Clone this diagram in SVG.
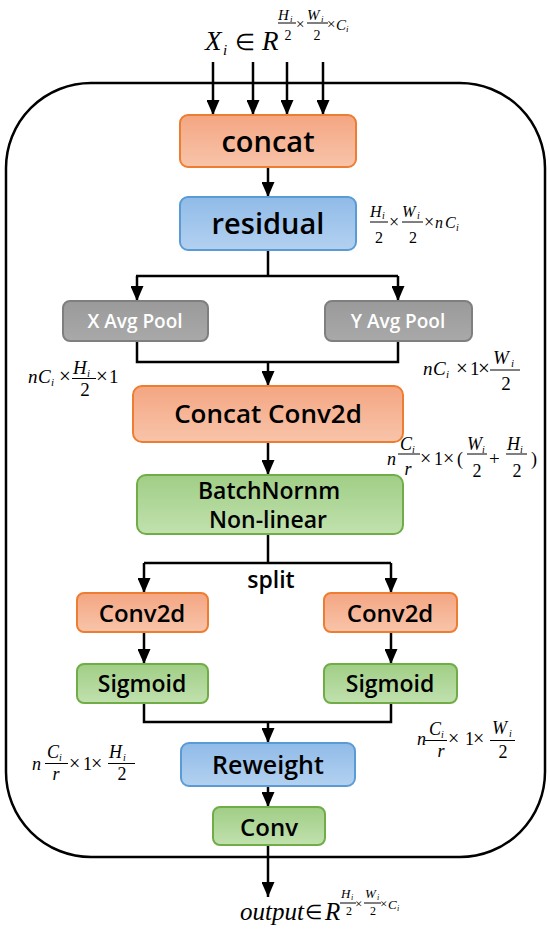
<svg xmlns="http://www.w3.org/2000/svg" width="550" height="930" viewBox="0 0 550 930">
<style>
.frame{fill:none;stroke:#000;stroke-width:2.5}
.c{fill:none;stroke:#000;stroke-width:2.5}
.ca{fill:none;stroke:#000;stroke-width:2.5;marker-end:url(#ah)}
.or{fill:url(#gO);stroke:#ed7d31;stroke-width:2}
.bl{fill:url(#gB);stroke:#5b9bd5;stroke-width:2}
.gr{fill:url(#gG);stroke:#70ad47;stroke-width:2}
.gy{fill:url(#gY);stroke:#7f7f7f;stroke-width:2}
.t{font-family:"Open Sans","Noto Sans",sans-serif;font-weight:600;fill:#000;text-anchor:middle}
.tw{font-family:"Open Sans","Noto Sans",sans-serif;font-weight:600;fill:#fff;text-anchor:middle}
.m{font-family:"Liberation Serif",serif;font-style:italic;fill:#000}
.u{font-family:"Liberation Serif",serif;font-style:normal;fill:#000}
.bar{stroke:#000;stroke-width:1}
</style>
<defs>
<linearGradient id="gO" x1="0" y1="0" x2="0" y2="1"><stop offset="0" stop-color="#f4a682"/><stop offset="1" stop-color="#f8c4aa"/></linearGradient>
<linearGradient id="gB" x1="0" y1="0" x2="0" y2="1"><stop offset="0" stop-color="#90bbe8"/><stop offset="1" stop-color="#b3d1f0"/></linearGradient>
<linearGradient id="gG" x1="0" y1="0" x2="0" y2="1"><stop offset="0" stop-color="#a0ce86"/><stop offset="1" stop-color="#c1e1ae"/></linearGradient>
<linearGradient id="gY" x1="0" y1="0" x2="0" y2="1"><stop offset="0" stop-color="#9a9a9a"/><stop offset="1" stop-color="#a9a9a9"/></linearGradient>
<marker id="ah" viewBox="0 0 15 13" refX="15" refY="6.5" markerWidth="15" markerHeight="13" markerUnits="userSpaceOnUse" orient="auto"><path d="M0,0 L15,6.5 L0,13 z" fill="#000"/></marker>
</defs>

<rect class="frame" x="6" y="83" width="539" height="774" rx="85" ry="85"/>

<g id="connectors">
<path class="ca" d="M213,62 V115"/>
<path class="ca" d="M253,62 V115"/>
<path class="ca" d="M287,62 V115"/>
<path class="ca" d="M323,62 V115"/>
<path class="ca" d="M268,167 V197"/>
<path class="c" d="M268,250 V276"/>
<path class="c" d="M136,276 H398"/>
<path class="ca" d="M137,276 V301"/>
<path class="ca" d="M398,276 V301"/>
<path class="c" d="M137,341 V362 H398 V341"/>
<path class="ca" d="M268,362 V386"/>
<path class="ca" d="M268,442 V475"/>
<path class="c" d="M268,534 V563"/>
<path class="c" d="M144,563 H391"/>
<path class="ca" d="M144,563 V593"/>
<path class="ca" d="M391,563 V593"/>
<path class="ca" d="M144,632 V664"/>
<path class="ca" d="M391,632 V664"/>
<path class="c" d="M144,703 V722 H391 V703"/>
<path class="ca" d="M268,722 V743"/>
<path class="ca" d="M268,786 V807"/>
<path class="ca" d="M268,845 V897"/>
<text class="t" x="271" y="588" font-size="23">split</text>
</g>

<g id="input">
<text class="m" x="205" y="50" font-size="27">X</text>
<text class="m" x="223" y="55" font-size="15">i</text>
<text class="u" x="235" y="50" font-size="23">∈</text>
<text class="m" x="262" y="50" font-size="27">R</text>
<text class="m" x="278" y="20" font-size="15">H</text>
<text class="m" x="290" y="22" font-size="9">i</text>
<line class="bar" x1="278" y1="23" x2="296" y2="23"/>
<text class="u" x="288" y="40" font-size="14" text-anchor="middle">2</text>
<text class="u" x="296" y="29" font-size="15">×</text>
<text class="m" x="307" y="20" font-size="15">W</text>
<text class="m" x="321" y="22" font-size="9">i</text>
<line class="bar" x1="307" y1="23" x2="328" y2="23"/>
<text class="u" x="317" y="40" font-size="14" text-anchor="middle">2</text>
<text class="u" x="327" y="29" font-size="15">×</text>
<text class="m" x="336" y="30" font-size="15">C</text>
<text class="m" x="346" y="32" font-size="9">i</text>
</g>

<g id="concat">
<rect class="or" x="180" y="115" width="176" height="52" rx="8"/>
<text class="t" x="268" y="152" font-size="29">concat</text>
</g>

<g id="residual">
<rect class="bl" x="180" y="197" width="176" height="53" rx="8"/>
<text class="t" x="268" y="234" font-size="29">residual</text>
</g>

<g id="label-residual">
<text class="m" x="370" y="217" font-size="16">H</text>
<text class="m" x="382" y="219" font-size="10">i</text>
<line class="bar" x1="370" y1="222" x2="388" y2="222"/>
<text class="u" x="379" y="243" font-size="16" text-anchor="middle">2</text>
<text class="u" x="389" y="228" font-size="18">×</text>
<text class="m" x="402" y="217" font-size="16">W</text>
<text class="m" x="417" y="219" font-size="10">i</text>
<line class="bar" x1="402" y1="222" x2="423" y2="222"/>
<text class="u" x="413" y="243" font-size="16" text-anchor="middle">2</text>
<text class="u" x="424" y="228" font-size="18">×</text>
<text class="m" x="435" y="228" font-size="16">n</text>
<text class="m" x="445" y="228" font-size="16">C</text>
<text class="m" x="456" y="231" font-size="10">i</text>
</g>

<g id="xpool">
<rect class="gy" x="63" y="301" width="145" height="40" rx="7"/>
<text class="tw" x="135" y="328" font-size="19">X Avg Pool</text>
</g>

<g id="ypool">
<rect class="gy" x="325" y="301" width="147" height="40" rx="7"/>
<text class="tw" x="398" y="328" font-size="19">Y Avg Pool</text>
</g>

<g id="label-xpool">
<text class="m" x="28" y="383" font-size="19">n</text>
<text class="m" x="38" y="383" font-size="19">C</text>
<text class="m" x="51" y="386" font-size="11">i</text>
<text class="u" x="59" y="383" font-size="21">×</text>
<text class="m" x="73" y="374" font-size="19">H</text>
<text class="m" x="87" y="377" font-size="11">i</text>
<line class="bar" x1="72" y1="378.5" x2="96" y2="378.5"/>
<text class="u" x="85" y="396" font-size="19" text-anchor="middle">2</text>
<text class="u" x="96" y="383" font-size="21">×</text>
<text class="u" x="109" y="383" font-size="19">1</text>
</g>

<g id="label-ypool">
<text class="m" x="423" y="375" font-size="19">n</text>
<text class="m" x="433" y="375" font-size="19">C</text>
<text class="m" x="446" y="378" font-size="11">i</text>
<text class="u" x="456" y="375" font-size="21">×</text>
<text class="u" x="470" y="375" font-size="19">1</text>
<text class="u" x="478" y="375" font-size="21">×</text>
<text class="m" x="493" y="364" font-size="19">W</text>
<text class="m" x="511" y="367" font-size="11">i</text>
<line class="bar" x1="490" y1="370" x2="520" y2="370"/>
<text class="u" x="506" y="390" font-size="19" text-anchor="middle">2</text>
</g>

<g id="concatconv">
<rect class="or" x="133" y="386" width="270" height="56" rx="9"/>
<text class="t" x="268" y="423" font-size="26">Concat Conv2d</text>
</g>

<g id="label-concatconv">
<text class="m" x="387" y="465" font-size="18">n</text>
<text class="m" x="400" y="450" font-size="18">C</text>
<text class="m" x="412" y="453" font-size="10">i</text>
<line class="bar" x1="398" y1="454" x2="420" y2="454"/>
<text class="m" x="408" y="475" font-size="18" text-anchor="middle">r</text>
<text class="u" x="420" y="465" font-size="20">×</text>
<text class="u" x="434" y="465" font-size="18">1</text>
<text class="u" x="443" y="465" font-size="20">×</text>
<text class="u" x="457" y="465" font-size="18">(</text>
<text class="m" x="467" y="450" font-size="18">W</text>
<text class="m" x="482" y="453" font-size="10">i</text>
<line class="bar" x1="467" y1="454" x2="487" y2="454"/>
<text class="u" x="477" y="477" font-size="18" text-anchor="middle">2</text>
<text class="u" x="489" y="465" font-size="19">+</text>
<text class="m" x="507" y="450" font-size="18">H</text>
<text class="m" x="520" y="453" font-size="10">i</text>
<line class="bar" x1="506" y1="454" x2="527" y2="454"/>
<text class="u" x="517" y="477" font-size="18" text-anchor="middle">2</text>
<text class="u" x="531" y="465" font-size="18">)</text>
</g>

<g id="batchnorm">
<rect class="gr" x="137" y="475" width="266" height="59" rx="9"/>
<text class="t" x="269" y="499" font-size="23">BatchNornm</text>
<text class="t" x="268" y="528" font-size="23">Non-linear</text>
</g>

<g id="conv2d-left">
<rect class="or" x="77" y="593" width="131" height="39" rx="7"/>
<text class="t" x="142" y="622" font-size="24">Conv2d</text>
</g>
<g id="conv2d-right">
<rect class="or" x="324" y="593" width="133" height="39" rx="7"/>
<text class="t" x="390" y="622" font-size="24">Conv2d</text>
</g>

<g id="sigmoid-left">
<rect class="gr" x="77" y="664" width="131" height="39" rx="7"/>
<text class="t" x="142" y="692" font-size="23">Sigmoid</text>
</g>
<g id="sigmoid-right">
<rect class="gr" x="324" y="664" width="133" height="39" rx="7"/>
<text class="t" x="390" y="692" font-size="23">Sigmoid</text>
</g>

<g id="label-left">
<text class="m" x="32" y="770" font-size="18">n</text>
<text class="m" x="47" y="758" font-size="18">C</text>
<text class="m" x="59" y="761" font-size="10">i</text>
<line class="bar" x1="45" y1="763.5" x2="68" y2="763.5"/>
<text class="m" x="56" y="780" font-size="18" text-anchor="middle">r</text>
<text class="u" x="69" y="770" font-size="20">×</text>
<text class="u" x="83" y="770" font-size="18">1</text>
<text class="u" x="91" y="770" font-size="20">×</text>
<text class="m" x="109" y="758" font-size="18">H</text>
<text class="m" x="123" y="761" font-size="10">i</text>
<line class="bar" x1="108" y1="763.5" x2="135" y2="763.5"/>
<text class="u" x="122" y="780" font-size="18" text-anchor="middle">2</text>
</g>

<g id="label-right">
<text class="m" x="417" y="745" font-size="18">n</text>
<text class="m" x="429" y="735" font-size="18">C</text>
<text class="m" x="441" y="738" font-size="10">i</text>
<line class="bar" x1="425" y1="740.5" x2="447" y2="740.5"/>
<text class="m" x="441" y="757" font-size="18" text-anchor="middle">r</text>
<text class="u" x="448" y="745" font-size="20">×</text>
<text class="u" x="465" y="745" font-size="18">1</text>
<text class="u" x="473" y="745" font-size="20">×</text>
<text class="m" x="492" y="734" font-size="18">W</text>
<text class="m" x="509" y="737" font-size="10">i</text>
<line class="bar" x1="490" y1="740.5" x2="515" y2="740.5"/>
<text class="u" x="503" y="758" font-size="18" text-anchor="middle">2</text>
</g>

<g id="reweight">
<rect class="bl" x="181" y="743" width="174" height="43" rx="8"/>
<text class="t" x="268" y="774" font-size="25">Reweight</text>
</g>

<g id="conv">
<rect class="gr" x="213" y="807" width="112" height="38" rx="7"/>
<text class="t" x="269" y="836" font-size="24">Conv</text>
</g>

<g id="output">
<text class="m" x="240" y="920" font-size="25">output</text>
<text class="u" x="305" y="919" font-size="20">∈</text>
<text class="m" x="325" y="920" font-size="25">R</text>
<text class="m" x="341" y="898" font-size="13">H</text>
<text class="m" x="351" y="900" font-size="8">i</text>
<line class="bar" x1="340" y1="903" x2="356" y2="903"/>
<text class="u" x="349" y="915" font-size="12" text-anchor="middle">2</text>
<text class="u" x="355" y="908" font-size="13">×</text>
<text class="m" x="365" y="898" font-size="13">W</text>
<text class="m" x="377" y="900" font-size="8">i</text>
<line class="bar" x1="364" y1="903" x2="381" y2="903"/>
<text class="u" x="373" y="915" font-size="12" text-anchor="middle">2</text>
<text class="u" x="380" y="908" font-size="13">×</text>
<text class="m" x="388" y="909" font-size="13">C</text>
<text class="m" x="397" y="911" font-size="8">i</text>
</g>
</svg>
